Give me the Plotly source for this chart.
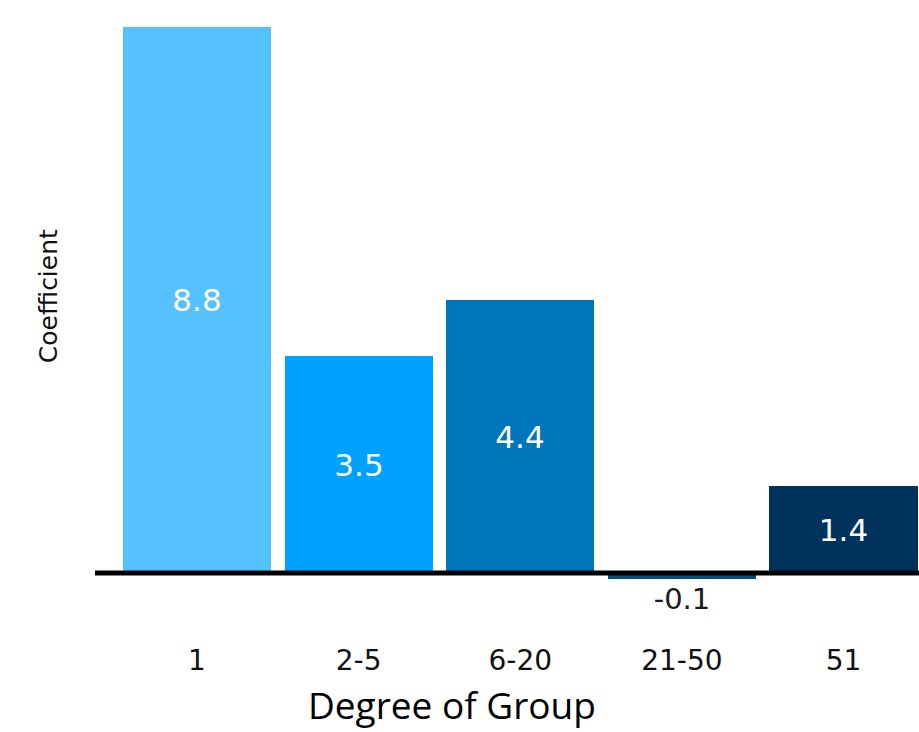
import plotly.graph_objects as go

# Regression coefficients by degree of group
categories = ["1", "2-5", "6-20", "21-50", "51"]
coefficients = [8.8, 3.5, 4.4, -0.1, 1.4]
bar_colors = ["#56C1FF", "#00A2FF", "#0076BA", "#004D80", "#00325E"]
label_positions = ["inside", "inside", "inside", "outside", "inside"]

x_pos = list(range(len(categories)))

fig = go.Figure(
    go.Bar(
        x=x_pos,
        y=coefficients,
        width=0.916,
        marker=dict(color=bar_colors, line=dict(width=0)),
        texttemplate="%{y:.1f}",
        textposition=label_positions,
        insidetextanchor="middle",
        textangle=0,
        insidetextfont=dict(family="DejaVu Sans", size=31, color="white"),
        outsidetextfont=dict(family="DejaVu Sans", size=29, color="#1a1a1a"),
        cliponaxis=False,
        hoverinfo="skip",
    )
)

# heavy baseline at zero, drawn over the bars
fig.add_shape(
    type="line", xref="paper", x0=0, x1=1, yref="y", y0=0, y1=0,
    line=dict(color="black", width=5), layer="above",
)

fig.add_annotation(
    text="Coefficient", textangle=-90,
    xref="paper", yref="paper", x=-0.057, y=0.538, xanchor="center", yanchor="middle",
    showarrow=False, font=dict(family="DejaVu Sans", size=25, color="#111111"),
)
fig.add_annotation(
    text="Degree of Group",
    xref="paper", yref="paper", x=0.433, y=-0.0998, xanchor="center", yanchor="middle",
    showarrow=False, font=dict(family="Open Sans", size=37, color="black"),
)

fig.update_layout(
    width=919, height=732,
    margin=dict(l=95, r=0, t=0, b=91),
    paper_bgcolor="white", plot_bgcolor="white",
    showlegend=False,
    bargap=0,
    xaxis=dict(
        range=[-0.631, 4.467], tickmode="array", tickvals=x_pos, ticktext=categories,
        showgrid=False, zeroline=False, showline=False, ticks="",
        tickfont=dict(family="DejaVu Sans", size=28, color="#111111"),
    ),
    yaxis=dict(
        range=[-1.097, 9.242], showgrid=False, zeroline=False, showline=False,
        showticklabels=False, ticks="",
    ),
)

fig.write_html("out.html")
